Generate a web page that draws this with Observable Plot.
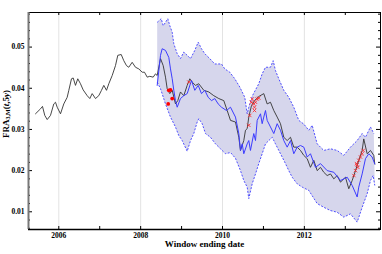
<!DOCTYPE html>
<html>
<head>
<meta charset="utf-8">
<script src="https://cdn.jsdelivr.net/npm/d3@7"></script>
<script src="https://cdn.jsdelivr.net/npm/@observablehq/plot@0.6"></script>
<style>
  html, body { margin: 0; padding: 0; background: #fff; }
</style>
</head>
<body>
<div id="chart"></div>
<script>
// ---- data ----
const blackYear = [2005.431,2005.553,2005.602,2005.658,2005.717,2005.797,2005.878,2005.920,2005.961,2006.042,2006.122,2006.205,2006.245,2006.310,2006.352,2006.408,2006.464,2006.530,2006.596,2006.694,2006.758,2006.816,2006.897,2006.977,2007.043,2007.100,2007.166,2007.222,2007.305,2007.385,2007.442,2007.525,2007.588,2007.654,2007.710,2007.793,2007.874,2007.955,2008.038,2008.094,2008.160,2008.223,2008.306,2008.363,2008.404,2008.485,2008.551,2008.607,2008.648,2008.712,2008.771,2008.851,2008.907,2008.973,2009.054,2009.137,2009.201,2009.259,2009.340,2009.420,2009.543,2009.665,2009.787,2009.909,2010.031,2010.114,2010.195,2010.317,2010.398,2010.439,2010.520,2010.561,2010.603,2010.642,2010.708,2010.781,2010.886,2011.008,2011.091,2011.172,2011.253,2011.336,2011.416,2011.497,2011.580,2011.661,2011.741,2011.824,2011.905,2011.986,2012.069,2012.149,2012.230,2012.313,2012.394,2012.474,2012.557,2012.638,2012.719,2012.801,2012.882,2013.004,2013.085,2013.168,2013.249,2013.329,2013.412,2013.451,2013.534,2013.615,2013.696,2013.720];
const blackValue = [0.0338,0.0350,0.0356,0.0334,0.0324,0.0334,0.0362,0.0366,0.0354,0.0338,0.0362,0.0378,0.0395,0.0423,0.0425,0.0407,0.0423,0.0411,0.0396,0.0382,0.0375,0.0387,0.0375,0.0382,0.0395,0.0407,0.0395,0.0411,0.0431,0.0455,0.0480,0.0482,0.0467,0.0455,0.0451,0.0463,0.0451,0.0447,0.0439,0.0439,0.0427,0.0429,0.0427,0.0435,0.0431,0.0472,0.0455,0.0427,0.0399,0.0387,0.0395,0.0362,0.0370,0.0391,0.0382,0.0407,0.0423,0.0415,0.0407,0.0411,0.0395,0.0391,0.0382,0.0375,0.0370,0.0346,0.0322,0.0318,0.0281,0.0249,0.0273,0.0298,0.0302,0.0330,0.0358,0.0370,0.0380,0.0387,0.0362,0.0366,0.0346,0.0330,0.0314,0.0281,0.0273,0.0281,0.0257,0.0257,0.0249,0.0237,0.0229,0.0208,0.0225,0.0200,0.0208,0.0196,0.0188,0.0192,0.0180,0.0188,0.0172,0.0184,0.0156,0.0176,0.0200,0.0225,0.0249,0.0277,0.0241,0.0249,0.0237,0.0216];

const medianYear = [2008.404,2008.485,2008.526,2008.607,2008.688,2008.729,2008.771,2008.810,2008.851,2008.893,2008.973,2009.054,2009.137,2009.242,2009.323,2009.406,2009.486,2009.567,2009.650,2009.731,2009.811,2009.894,2009.975,2010.097,2010.195,2010.317,2010.398,2010.439,2010.481,2010.520,2010.603,2010.642,2010.683,2010.764,2010.806,2010.847,2010.928,2010.969,2011.008,2011.050,2011.091,2011.172,2011.253,2011.336,2011.416,2011.497,2011.580,2011.661,2011.741,2011.824,2011.905,2011.986,2012.069,2012.149,2012.271,2012.394,2012.557,2012.719,2012.882,2013.046,2013.168,2013.290,2013.329,2013.412,2013.493,2013.574,2013.656,2013.720];
const medianValue = [0.0407,0.0480,0.0496,0.0492,0.0475,0.0447,0.0423,0.0395,0.0370,0.0354,0.0375,0.0382,0.0387,0.0419,0.0395,0.0407,0.0387,0.0395,0.0378,0.0370,0.0375,0.0362,0.0354,0.0346,0.0354,0.0330,0.0290,0.0249,0.0265,0.0241,0.0265,0.0273,0.0249,0.0290,0.0273,0.0322,0.0338,0.0314,0.0330,0.0346,0.0322,0.0306,0.0290,0.0314,0.0298,0.0273,0.0257,0.0273,0.0241,0.0257,0.0261,0.0257,0.0233,0.0241,0.0208,0.0217,0.0200,0.0196,0.0176,0.0184,0.0164,0.0136,0.0160,0.0192,0.0229,0.0241,0.0233,0.0216];

const upperYear = [2008.404,2008.502,2008.551,2008.607,2008.663,2008.712,2008.771,2008.810,2008.893,2008.973,2009.054,2009.137,2009.218,2009.323,2009.406,2009.486,2009.567,2009.689,2009.811,2009.975,2010.056,2010.178,2010.300,2010.422,2010.544,2010.603,2010.642,2010.732,2010.886,2010.969,2011.050,2011.172,2011.238,2011.294,2011.375,2011.497,2011.619,2011.741,2011.863,2011.986,2012.108,2012.191,2012.313,2012.474,2012.638,2012.801,2012.963,2013.126,2013.290,2013.412,2013.493,2013.615,2013.696];
const upperValue = [0.0560,0.0569,0.0552,0.0560,0.0569,0.0552,0.0536,0.0508,0.0484,0.0472,0.0488,0.0480,0.0472,0.0492,0.0512,0.0496,0.0484,0.0472,0.0459,0.0459,0.0447,0.0439,0.0423,0.0403,0.0378,0.0338,0.0354,0.0382,0.0411,0.0435,0.0451,0.0451,0.0467,0.0443,0.0423,0.0395,0.0378,0.0354,0.0322,0.0313,0.0298,0.0310,0.0265,0.0249,0.0253,0.0249,0.0237,0.0257,0.0273,0.0290,0.0281,0.0306,0.0290];

const lowerYear = [2008.404,2008.485,2008.607,2008.729,2008.851,2008.932,2009.015,2009.137,2009.218,2009.298,2009.381,2009.420,2009.503,2009.584,2009.706,2009.828,2009.951,2010.073,2010.195,2010.317,2010.439,2010.520,2010.603,2010.642,2010.725,2010.806,2010.886,2010.969,2011.050,2011.131,2011.214,2011.294,2011.375,2011.458,2011.539,2011.619,2011.702,2011.824,2011.946,2012.108,2012.313,2012.474,2012.638,2012.801,2012.963,2013.126,2013.290,2013.412,2013.534,2013.615,2013.680,2013.720];
const lowerValue = [0.0415,0.0399,0.0362,0.0330,0.0306,0.0285,0.0273,0.0247,0.0273,0.0290,0.0318,0.0326,0.0314,0.0290,0.0281,0.0265,0.0253,0.0241,0.0244,0.0230,0.0200,0.0176,0.0160,0.0132,0.0168,0.0192,0.0217,0.0241,0.0265,0.0273,0.0281,0.0265,0.0249,0.0233,0.0217,0.0200,0.0184,0.0168,0.0160,0.0152,0.0120,0.0111,0.0103,0.0099,0.0087,0.0095,0.0075,0.0111,0.0144,0.0176,0.0188,0.0164];

const dotYear = [2008.673,2008.688,2008.729,2008.771];
const dotValue = [0.0362,0.0395,0.0396,0.0375];

const crossYear = [2009.176,2010.642,2010.666,2010.701,2010.725,2010.764,2010.781,2010.806,2010.847,2010.886,2010.781,2013.209,2013.249,2013.273,2013.305,2013.329,2013.371,2013.412,2013.436,2013.290];
const crossValue = [0.0415,0.0310,0.0334,0.0366,0.0374,0.0362,0.0354,0.0366,0.0374,0.0376,0.0346,0.0188,0.0200,0.0217,0.0208,0.0225,0.0233,0.0241,0.0249,0.0214];

const xLabelYears = [2006, 2008, 2010, 2012];
const xTickYears = [2006, 2007, 2008, 2009, 2010, 2011, 2012, 2013];
const yMajor = [0.01, 0.02, 0.03, 0.04, 0.05];
const yMinor = [0.006,0.008,0.012,0.014,0.016,0.018,0.022,0.024,0.026,0.028,0.032,0.034,0.036,0.038,0.042,0.044,0.046,0.048,0.052,0.054,0.056,0.058];
const xDomain = [2005.26, 2013.86];
const yDomain = [0.0057, 0.0584];

// ---- tables ----
const pts = (xs, ys) => xs.map((x, i) => ({x, y: ys[i]}));
const black = pts(blackYear, blackValue);
const median = pts(medianYear, medianValue);
const upper = pts(upperYear, upperValue);
const lower = pts(lowerYear, lowerValue);
const band = upper.concat(lower.slice().reverse());
const dots = pts(dotYear, dotValue);
const crosses = pts(crossYear, crossValue);

const W = 382, H = 254, mL = 28, mR = 2, mT = 12, mB = 25;
const iW = W - mL - mR, iH = H - mT - mB;
const serif = "'Liberation Serif','Times New Roman',serif";

const chart = Plot.plot({
  width: W, height: H,
  marginLeft: mL, marginRight: mR, marginTop: mT, marginBottom: mB,
  style: {fontFamily: serif, fontWeight: "bold", fontSize: "7.5px", background: "#fff", color: "#000"},
  x: {domain: xDomain, ticks: xLabelYears, tickFormat: d => String(d), tickSize: 0, tickPadding: 3, label: null},
  y: {domain: yDomain, ticks: yMajor, tickFormat: d3.format(".2f"), tickSize: 0, tickPadding: 4, label: null},
  marks: [
    Plot.ruleX(xLabelYears, {stroke: "#e3e3e3", strokeWidth: 1}),
    Plot.line(band, {x: "x", y: "y", fill: "#d6d6ec", stroke: "none"}),
    Plot.line(upper, {x: "x", y: "y", stroke: "#4f4fff", strokeWidth: 1, strokeDasharray: "2,1.5", strokeLinecap: "butt", strokeLinejoin: "miter"}),
    Plot.line(lower, {x: "x", y: "y", stroke: "#4f4fff", strokeWidth: 1, strokeDasharray: "2,1.5", strokeLinecap: "butt", strokeLinejoin: "miter"}),
    Plot.line(black, {x: "x", y: "y", stroke: "#333", strokeWidth: 0.9, strokeLinejoin: "miter"}),
    Plot.line(median, {x: "x", y: "y", stroke: "#3c3cff", strokeWidth: 1, strokeLinejoin: "miter"}),
    Plot.dot(crosses, {x: "x", y: "y", symbol: "times", r: 1.7, stroke: "#ff2020", strokeWidth: 0.8}),
    Plot.dot(dots, {x: "x", y: "y", r: 1.9, fill: "#ff0000", stroke: "none"}),
    // inward ticks
    Plot.ruleX(xTickYears, {insetTop: iH - 3, stroke: "#000"}),
    Plot.ruleX(xTickYears, {insetBottom: iH - 3, stroke: "#000"}),
    Plot.ruleY(yMajor, {insetRight: iW - 4, stroke: "#000"}),
    Plot.ruleY(yMinor, {insetRight: iW - 2, stroke: "#000"}),
    Plot.ruleY(yMajor, {insetLeft: iW - 4, stroke: "#000"}),
    Plot.ruleY(yMinor, {insetLeft: iW - 2, stroke: "#000"}),
    Plot.frame({stroke: "#000", strokeWidth: 1}),
    Plot.ruleX([xDomain[0]], {stroke: "#777", strokeWidth: 2}),
    Plot.ruleY([yDomain[0]], {stroke: "#000", strokeWidth: 1.5}),
    Plot.text(["Window ending date"], {frameAnchor: "bottom", dy: 17, fontSize: 9, fontWeight: "bold"})
  ]
});

// y-axis label with subscript
const svg = d3.select(chart);
const lab = svg.append("text")
  .attr("transform", "translate(7,114) rotate(-90)")
  .attr("text-anchor", "middle")
  .attr("dominant-baseline", "middle")
  .style("font-family", serif)
  .style("font-weight", "bold")
  .style("font-size", "9px");
lab.append("tspan").text("FRA");
lab.append("tspan").attr("dy", "2").style("font-size", "6px").text("3,M");
lab.append("tspan").attr("dy", "-2").text("(");
lab.append("tspan").style("font-style", "italic").text("t");
lab.append("tspan").text(",5");
lab.append("tspan").style("font-style", "italic").text("y");
lab.append("tspan").text(")");

document.getElementById("chart").appendChild(chart);
</script>
</body>
</html>
